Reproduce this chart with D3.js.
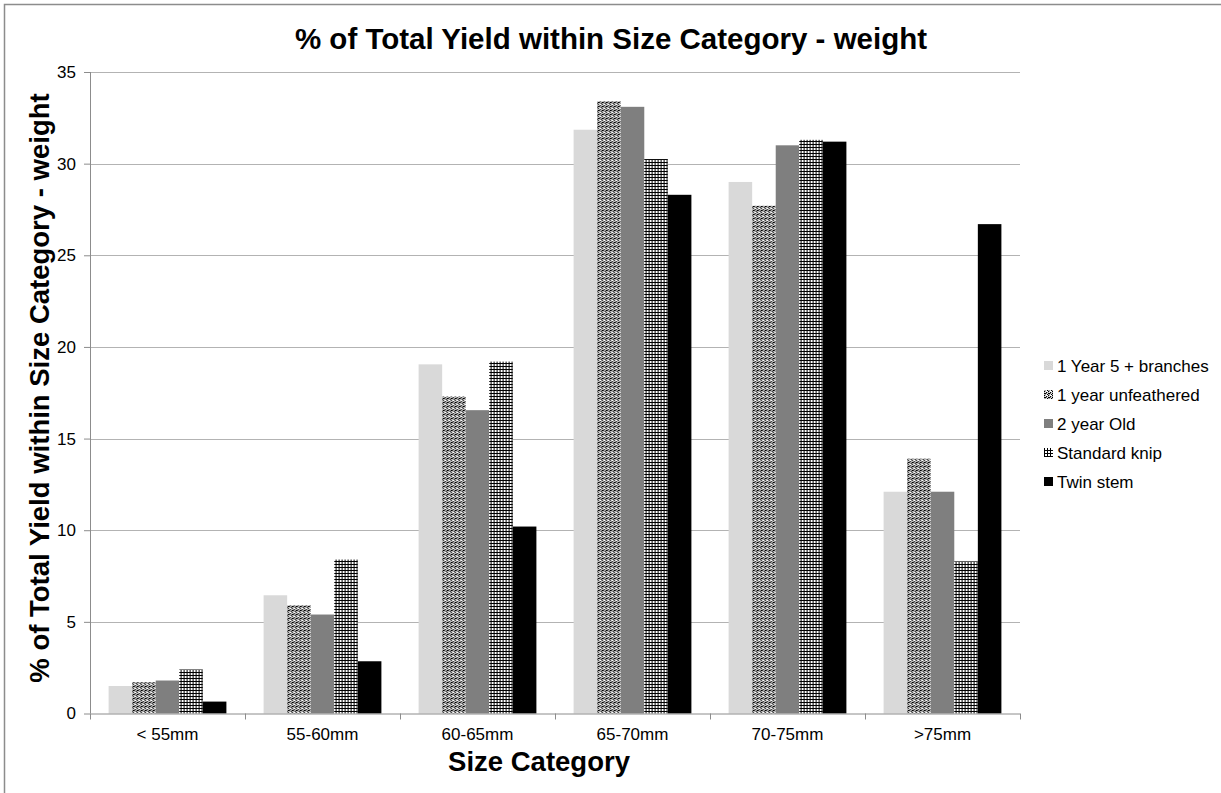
<!DOCTYPE html>
<html>
<head>
<meta charset="utf-8">
<script src="https://cdn.jsdelivr.net/npm/d3@7"></script>
<style>
  html, body { margin: 0; padding: 0; background: #fff; }
  svg { display: block; font-family: Arial, "Liberation Sans", sans-serif; }
</style>
</head>
<body>
<svg id="chart" width="1221" height="793"></svg>
<script>
// Size categories along the x axis
const categories = ["< 55mm", "55-60mm", "60-65mm", "65-70mm", "70-75mm", ">75mm"];
// Tree types (legend order)
const seriesNames = ["1 Year 5 + branches", "1 year unfeathered", "2 year Old", "Standard knip", "Twin stem"];
// % of total yield per size category, one array per tree type
const year1Branches   = [1.5, 6.45, 19.05, 31.85, 29.0, 12.1];
const year1Unfeath    = [1.7, 5.9, 17.3, 33.4, 27.7, 13.9];
const year2Old        = [1.8, 5.4, 16.55, 33.1, 31.0, 12.1];
const standardKnip    = [2.4, 8.4, 19.2, 30.25, 31.3, 8.3];
const twinStem        = [0.65, 2.85, 10.2, 28.3, 31.2, 26.7];
const yTicks = [0, 5, 10, 15, 20, 25, 30, 35];

const seriesValues = [year1Branches, year1Unfeath, year2Old, standardKnip, twinStem];

const svg = d3.select("#chart");
const W = 1221, H = 793;
const margin = { left: 90, top: 72 };
const plotW = 930, plotH = 641.5;
const FONT = "Arial, 'Liberation Sans', sans-serif";

// Patterns for the fills
const defs = svg.append("defs");
const dots = defs.append("pattern").attr("id", "pat-dots")
  .attr("patternUnits", "userSpaceOnUse").attr("width", 4).attr("height", 4);
dots.append("rect").attr("width", 4).attr("height", 4).attr("fill", "#fff");
[[0,0],[2,1],[1,2],[3,3],[0,2]].forEach(([x,y]) =>
  dots.append("rect").attr("x", x).attr("y", y).attr("width", 1.3).attr("height", 1.3).attr("fill", "#000"));

const grid = defs.append("pattern").attr("id", "pat-grid")
  .attr("patternUnits", "userSpaceOnUse").attr("width", 3).attr("height", 3);
grid.append("rect").attr("width", 3).attr("height", 3).attr("fill", "#fff");
grid.append("rect").attr("x", 0).attr("y", 0).attr("width", 1).attr("height", 3).attr("fill", "#000");
grid.append("rect").attr("x", 0).attr("y", 0).attr("width", 3).attr("height", 1).attr("fill", "#000");

const fills = ["#d9d9d9", "url(#pat-dots)", "#7f7f7f", "url(#pat-grid)", "#000000"];

// Outer chart frame
svg.append("rect").attr("x", 4.5).attr("y", 4.5).attr("width", W + 10).attr("height", H + 10)
  .attr("fill", "none").attr("stroke", "#8c8c8c").attr("stroke-width", 1.5);

// Title
svg.append("text").attr("x", 611).attr("y", 49).attr("text-anchor", "middle")
  .attr("font-size", 29.5).attr("font-weight", "bold").attr("fill", "#000")
  .text("% of Total Yield within Size Category - weight");

const g = svg.append("g").attr("transform", `translate(${margin.left},${margin.top})`);

const x0 = d3.scaleBand().domain(categories).range([0, plotW]).paddingInner(0.24).paddingOuter(0.12);
const x1 = d3.scaleBand().domain(d3.range(seriesNames.length)).range([0, x0.bandwidth()]);
const y = d3.scaleLinear().domain([0, 35]).range([plotH, 0]);

// Gridlines
g.append("g").selectAll("line").data(yTicks.filter(t => t > 0)).join("line")
  .attr("x1", 0).attr("x2", plotW)
  .attr("y1", d => Math.round(y(d)) + 0.5).attr("y2", d => Math.round(y(d)) + 0.5)
  .attr("stroke", "#b3b3b3").attr("stroke-width", 1.2);

// Bars
categories.forEach((c, ci) => {
  const grp = g.append("g").attr("transform", `translate(${x0(c)},0)`);
  seriesValues.forEach((vals, si) => {
    grp.append("rect")
      .attr("x", x1(si)).attr("width", x1.bandwidth())
      .attr("y", y(vals[ci])).attr("height", plotH - y(vals[ci]))
      .attr("fill", fills[si]);
  });
});

// Y axis
const yAxis = g.append("g").call(d3.axisLeft(y).tickValues(yTicks).tickSize(6).tickPadding(8));
yAxis.select(".domain").attr("stroke", "#8c8c8c").attr("d", `M0.5,${plotH}V0`);
yAxis.selectAll(".tick line").attr("stroke", "#8c8c8c").attr("x1", 0);
yAxis.selectAll(".tick text").attr("font-size", 17).attr("fill", "#000").attr("font-family", FONT);

// X axis
const xAxis = g.append("g").attr("transform", `translate(0,${plotH})`)
  .call(d3.axisBottom(x0).tickSize(0).tickPadding(14));
xAxis.select(".domain").attr("stroke", "#8c8c8c").attr("d", `M0,0.5H${plotW}`);
xAxis.selectAll(".tick text").attr("font-size", 17).attr("fill", "#000").attr("font-family", FONT);
// Category separator ticks
g.append("g").selectAll("line").data(d3.range(categories.length + 1)).join("line")
  .attr("x1", d => Math.round(d * plotW / categories.length) + 0.5)
  .attr("x2", d => Math.round(d * plotW / categories.length) + 0.5)
  .attr("y1", plotH).attr("y2", plotH + 6)
  .attr("stroke", "#8c8c8c");

// Axis titles
svg.append("text").attr("x", 539).attr("y", 771).attr("text-anchor", "middle")
  .attr("font-size", 27.5).attr("font-weight", "bold").text("Size Category");
svg.append("text").attr("transform", `translate(49,${388}) rotate(-90)`).attr("text-anchor", "middle")
  .attr("font-size", 27.5).attr("font-weight", "bold").text("% of Total Yield  within Size Category - weight");

// Legend
const legend = svg.append("g").attr("transform", "translate(1044,366)");
seriesNames.forEach((name, i) => {
  const row = legend.append("g").attr("transform", `translate(0,${i * 29})`);
  row.append("rect").attr("x", 0).attr("y", -5).attr("width", 9).attr("height", 9).attr("fill", fills[i]);
  row.append("text").attr("x", 13).attr("y", 6).attr("font-size", 17).attr("fill", "#000").text(name);
});
</script>
</body>
</html>
